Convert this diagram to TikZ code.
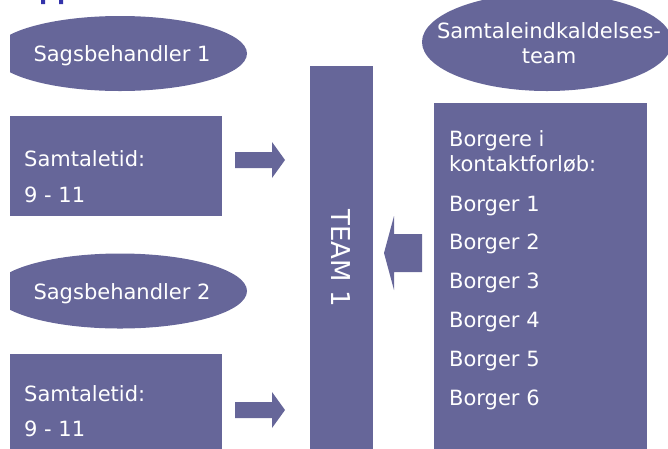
\documentclass[tikz,border=0pt]{standalone}
\usepackage{fontspec}
\setmainfont{DejaVu Sans}
\usepackage{tikz}
\usetikzlibrary{positioning,shapes.geometric}
\definecolor{teamviolet}{RGB}{102,102,153}
\definecolor{titleblue}{RGB}{51,51,170}

\begin{document}
\begin{tikzpicture}[x=1pt, y=-1pt, font=\fontsize{21}{25}\selectfont, text=white]
      \tikzstyle{bubble}=[ellipse,fill=teamviolet,inner sep=0pt,minimum width=254pt,minimum height=75pt]
      \tikzstyle{box}=[rectangle,fill=teamviolet,inner sep=0pt,anchor=north west]
      \tikzstyle{line}=[anchor=base west,inner sep=0pt]
      \tikzstyle{blockarrow}=[fill=teamviolet]
      \clip (0,0) rectangle (668,448);
      % title remnant
      \fill[titleblue] (41,0) rectangle (45,4) (59,0) rectangle (63,4);
      % left column
      \begin{scope}
        \clip (10,0) rectangle (300,448);
        \node[bubble] (SB1) at (120,53.5) {};
        \node[bubble] (SB2) at (120,291) {};
      \end{scope}
      \node[inner sep=0pt] (SB1txt) at (122,56) {Sagsbehandler 1};
      \node[inner sep=0pt] (SB2txt) at (122,293.5) {Sagsbehandler 2};
      \node[box,minimum width=212pt,minimum height=100pt] (T1) at (10,116) {};
      \node[line] (T1a) at (24,166) {Samtaletid:};
      \node[line] (T1b) at (24,202) {9 - 11};
      \node[box,minimum width=212pt,minimum height=100pt] (T2) at (10,354) {};
      \node[line] (T2a) at (24,401) {Samtaletid:};
      \node[line] (T2b) at (24,436) {9 - 11};
      % team
      \node[box,minimum width=63pt,minimum height=390pt] (TEAM) at (310,66) {};
      \node[rotate=-90,inner sep=0pt,font=\fontsize{26}{30}\selectfont] (TEAMtxt) at (341,258) {TEAM 1};
      % right column
      \node[ellipse,fill=teamviolet,inner sep=0pt,minimum width=250pt,minimum height=98pt] (SIT) at (547,42) {};
      \node[align=center,inner sep=0pt] (SITtxt) at (549,43) {Samtaleindkaldelses-\\team};
      \node[box,minimum width=213pt,minimum height=350pt] (BK) at (434,103) {};
      \node[line] (BKa) at (449,146) {Borgere i};
      \node[line] (BKb) at (449,171) {kontaktforløb:};
      \foreach \i in {1,...,6}
        \node[line] (B\i) at (449,{211+38.8*(\i-1)}) {Borger \i};
      % arrows
      \fill[blockarrow] (235,152) -- ++(37,0) -- ++(0,-10) -- ++(13,18) -- ++(-13,18) -- ++(0,-10) -- ++(-37,0) -- cycle;
      \fill[blockarrow] (235,402) -- ++(37,0) -- ++(0,-10) -- ++(13,18) -- ++(-13,18) -- ++(0,-10) -- ++(-37,0) -- cycle;
      \fill[blockarrow] (422,234) -- ++(-28,0) -- ++(0,-18) -- ++(-10,37) -- ++(10,37) -- ++(0,-18) -- ++(28,0) -- cycle;

    \end{tikzpicture}
\end{document}
